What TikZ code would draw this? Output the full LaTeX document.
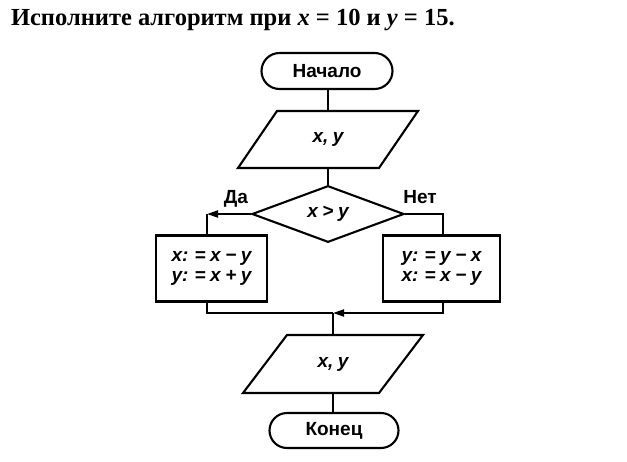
\documentclass[tikz,border=0pt]{standalone}
\usepackage{fontspec}
\setmainfont{Liberation Serif}
\newfontfamily\flowfont[WordSpace=0.85]{Liberation Sans}
\usetikzlibrary{shapes.geometric,shapes.misc,arrows.meta,calc}
\begin{document}
\begin{tikzpicture}[x=1pt,y=-1pt,line width=2.1pt,
  ffont/.style={font=\flowfont\bfseries\fontsize{19}{20}\selectfont},
  vfont/.style={font=\flowfont\bfseries\itshape\fontsize{19}{20}\selectfont},
  term/.style={draw, rounded rectangle, minimum width=131pt, minimum height=36pt, inner sep=0pt, ffont},
  iotext/.style={inner sep=0pt, vfont},
  decide/.style={draw, diamond, minimum width=152pt, minimum height=56pt, inner sep=0pt, vfont},
  proc/.style={draw, rectangle, minimum height=66pt, inner sep=0pt, align=left, vfont},
  lbl/.style={anchor=base, inner sep=0pt, ffont},
  arr/.style={-{Triangle[length=11pt,width=7pt]}},
  link/.style={line width=2.1pt}
]
\useasboundingbox (0,0) rectangle (627,461);

\node[anchor=base west, inner sep=0pt, font=\bfseries\fontsize{24.5}{28}\selectfont] (title) at (10,25)
  {Исполните алгоритм при \textit{x} = 10 и \textit{y} = 15.};

\node[term] (start) at (327,71) {Начало};

\node[iotext] (p1) at (328,139.5) {x, y};
\draw ($(p1)+(-51,-28.5)$) -- ($(p1)+(90,-28.5)$) -- ($(p1)+(51,28.5)$) -- ($(p1)+(-90,28.5)$) -- cycle;
\coordinate (p1top) at ($(p1)+(0,-28.5)$);
\coordinate (p1bot) at ($(p1)+(0,28.5)$);

\node[decide] (dec) at (328,214) {x > y};

\node[proc, minimum width=111pt] (L) at (211.5,268.5) {x: = x − y\\y: = x + y};
\node[proc, minimum width=117pt] (R) at (441.5,268.5) {y: = y − x\\x: = x − y};

\node[lbl] (da) at (236,203) {Да};
\node[lbl] (net) at (420,203) {Нет};

\node[iotext] (p2) at (333,364) {x, y};
\draw ($(p2)+(-46,-29)$) -- ($(p2)+(90,-29)$) -- ($(p2)+(46,29)$) -- ($(p2)+(-90,29)$) -- cycle;
\coordinate (p2top) at ($(p2)+(0,-29)$);
\coordinate (p2bot) at ($(p2)+(0,29)$);

\node[term, minimum width=129pt, minimum height=35pt] (stop) at (334,430.5) {Конец};

\coordinate (cL) at (207,214);
\coordinate (cR) at (443,214);
\coordinate (jL) at (207,313);
\coordinate (jR) at (443,313);
\coordinate (m) at (333,313);

\draw[link] (start.south -| p1top) -- (p1top);
\draw[link] (p1bot) -- (dec.north);
\draw[link,arr] (dec.west) -- (cL);
\draw[link] (cL) -- (cL |- L.north);
\draw[link] (dec.east) -- (cR) -- (cR |- R.north);
\draw[link] (cL |- L.south) -- (jL) -- (m);
\draw[link,arr] (cR |- R.south) -- (jR) -- (m);
\draw[link] (m) -- (p2top);
\draw[link] (p2bot) -- (p2bot |- stop.north);
\end{tikzpicture}
\end{document}
